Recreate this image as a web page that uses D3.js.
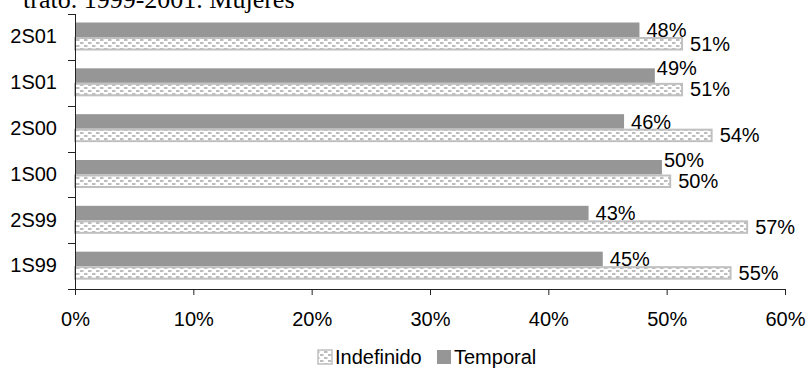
<!DOCTYPE html>
<html>
<head>
<meta charset="utf-8">
<script src="https://cdn.jsdelivr.net/npm/d3@7"></script>
<style>
  body { margin: 0; background: #fff; }
  svg { display: block; }
  text { font-family: "Liberation Sans", Arial, sans-serif; }
</style>
</head>
<body>
<svg id="chart" width="808" height="374"></svg>
<script>
// Contract type by half-year, women, 1999-2001
const periods = ["2S01", "1S01", "2S00", "1S00", "2S99", "1S99"];
const temporal = [0.477, 0.490, 0.464, 0.496, 0.434, 0.446];
const indefinido = [0.513, 0.513, 0.538, 0.503, 0.568, 0.554];
const xTicks = [0, 0.1, 0.2, 0.3, 0.4, 0.5, 0.6];
const seriesNames = ["Indefinido", "Temporal"];
const titleText = "trato. 1999-2001. Mujeres";

const svg = d3.select("#chart");
const fmt = d3.format(".0%");

const x = d3.scaleLinear().domain([0, 0.6]).range([75, 785]);
const y = d3.scaleBand().domain(periods).range([14, 289]).padding(0);

// Dotted fill for the "Indefinido" bars
const defs = svg.append("defs");
const pat = defs.append("pattern")
  .attr("id", "dots")
  .attr("patternUnits", "userSpaceOnUse")
  .attr("width", 8).attr("height", 6);
pat.append("rect").attr("width", 8).attr("height", 6).attr("fill", "#ffffff");
[[0, 0, 3, 2], [4, 3, 3, 2]].forEach(([px, py, w, h]) =>
  pat.append("rect").attr("x", px).attr("y", py).attr("width", w).attr("height", h).attr("fill", "#bdbdbd"));
[[3, 0, 1, 2], [7, 3, 1, 2]].forEach(([px, py, w, h]) =>
  pat.append("rect").attr("x", px).attr("y", py).attr("width", w).attr("height", h).attr("fill", "#dedede"));

// Heading line (runs off the top edge)
svg.append("text")
  .attr("x", 23).attr("y", 8)
  .style("font-family", "'Liberation Serif', 'Times New Roman', serif")
  .attr("font-size", 26)
  .attr("fill", "#000")
  .text(titleText);

const rows = periods.map((p, i) => ({ p, t: temporal[i], ind: indefinido[i] }));

const g = svg.append("g");

// Temporal bars
g.selectAll("rect.temporal").data(rows).join("rect")
  .attr("class", "temporal")
  .attr("x", x(0))
  .attr("y", d => y(d.p) + 8.5)
  .attr("width", d => x(d.t) - x(0))
  .attr("height", 14.5)
  .attr("fill", "#969696");

// Indefinido bars
g.selectAll("rect.indef").data(rows).join("rect")
  .attr("class", "indef")
  .attr("x", x(0))
  .attr("y", d => y(d.p) + 24)
  .attr("width", d => x(d.ind) - x(0))
  .attr("height", 11.5)
  .attr("fill", "url(#dots)")
  .attr("stroke", "#c0c0c0")
  .attr("stroke-width", 2);

// Value labels: Indefinido labels sit beside their bar; a Temporal label that
// would run into the Indefinido label below is lifted and pulled closer.
const labelW = 40;
const iLabelX = d => x(d.ind) + 8;
const clashes = d => x(d.t) + 7 + labelW > iLabelX(d);

g.selectAll("text.ilab").data(rows).join("text")
  .attr("class", "ilab")
  .attr("x", iLabelX)
  .attr("y", d => y(d.p) + 36.5)
  .attr("font-size", 20)
  .attr("fill", "#000")
  .text(d => fmt(d.ind));

g.selectAll("text.tlab").data(rows).join("text")
  .attr("class", "tlab")
  .attr("x", d => x(d.t) + (clashes(d) ? 2 : 7))
  .attr("y", d => y(d.p) + (clashes(d) ? 15 : 23))
  .attr("font-size", 20)
  .attr("fill", "#000")
  .text(d => fmt(d.t));

// Axes
const axisColor = "#222";
const xAxis = svg.append("g").attr("transform", "translate(0,289)")
  .call(d3.axisBottom(x).tickValues(xTicks).tickFormat(fmt).tickSize(6).tickPadding(17));
xAxis.select(".domain").attr("stroke", axisColor).attr("d", `M${x(0) - 7},0.5H${x(0.6)}`);
xAxis.selectAll(".tick line").attr("stroke", axisColor);
xAxis.selectAll(".tick text")
  .attr("font-size", 20).attr("fill", "#000")
  .style("font-family", "'Liberation Sans', Arial, sans-serif");

const yAxis = svg.append("g").attr("transform", `translate(${x(0)},0)`)
  .call(d3.axisLeft(y).tickSize(0).tickPadding(18));
yAxis.select(".domain").attr("stroke", axisColor).attr("d", `M0.5,${y.range()[0]}V${y.range()[1]}`);
yAxis.selectAll(".tick text")
  .attr("font-size", 20).attr("fill", "#000")
  .style("font-family", "'Liberation Sans', Arial, sans-serif");

// Category boundary ticks on the vertical axis
const bounds = periods.map(p => y(p)).concat([y.range()[1]]);
yAxis.selectAll("line.bound").data(bounds).join("line")
  .attr("class", "bound")
  .attr("x1", -7).attr("x2", 0)
  .attr("y1", d => Math.round(d) + 0.5).attr("y2", d => Math.round(d) + 0.5)
  .attr("stroke", axisColor);

// Legend
const legend = svg.append("g");
const legendItems = [
  { name: seriesNames[0], fill: "url(#dots)", stroke: "#c0c0c0", sx: 318 },
  { name: seriesNames[1], fill: "#969696", stroke: "none", sx: 437 }
];
legendItems.forEach(it => {
  legend.append("rect")
    .attr("x", it.sx).attr("y", 350)
    .attr("width", 14).attr("height", 14)
    .attr("fill", it.fill)
    .attr("stroke", it.stroke)
    .attr("stroke-width", it.stroke === "none" ? 0 : 1.5);
  legend.append("text")
    .attr("x", it.sx + 17).attr("y", 364)
    .attr("font-size", 20).attr("fill", "#000")
    .text(it.name);
});
</script>
</body>
</html>
